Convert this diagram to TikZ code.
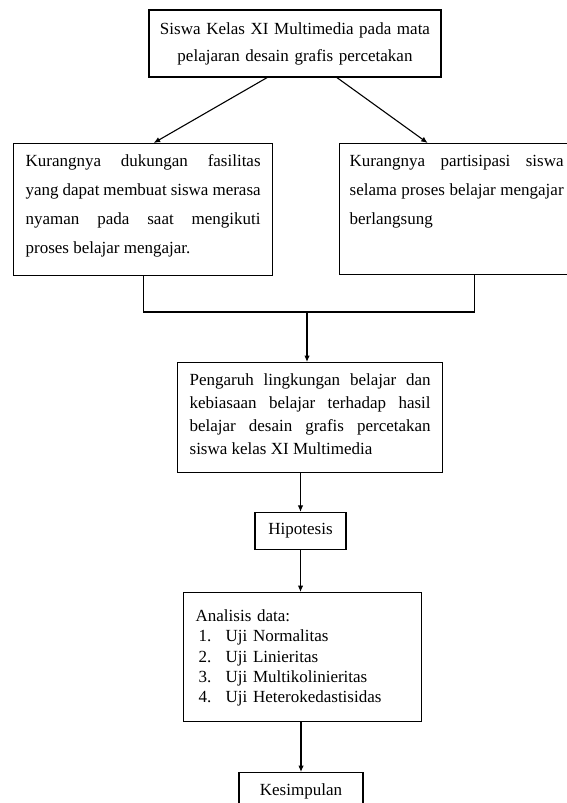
\documentclass[tikz,border=0pt]{standalone}
\usepackage{fontspec}
\setmainfont{Liberation Serif}
\usetikzlibrary{arrows.meta,positioning,calc}
\hyphenpenalty=10000
\exhyphenpenalty=10000
\tikzset{
  flowbox/.style={rectangle, draw=black, line width=1.3pt, inner xsep=12pt,
                  inner ysep=11pt, font=\fontsize{17}{29}\selectfont},
  topbox/.style={flowbox, align=justify, text height=12pt},
  flowarrow/.style={-{Latex[length=6.5pt,width=5.5pt]}, line width=1.1pt},
  flowline/.style={line width=1.1pt},
}

\begin{document}
\begin{tikzpicture}[x=1pt,y=-1pt]
  \useasboundingbox (0,0) rectangle (567,803);

  % Object of the study
  \node[flowbox, align=center, inner xsep=1pt, text width=290pt, minimum width=292pt,
        minimum height=67pt, font=\fontsize{17}{27}\selectfont] (subject) at (295,43.5)
        {Siswa Kelas XI Multimedia pada mata\\pelajaran desain grafis percetakan};

  % The two problems
  \node[topbox, anchor=north west, text width=235pt, text depth=98pt] (facility) at (13,143)
        {Kurangnya dukungan fasilitas\linebreak yang dapat membuat siswa merasa\linebreak
         nyaman pada saat mengikuti\linebreak proses belajar mengajar.};
  \node[topbox, anchor=north west, inner xsep=10pt, text width=214pt, text depth=97pt] (participation) at (339,143)
        {Kurangnya partisipasi siswa\linebreak selama proses belajar mengajar\linebreak berlangsung};

  % Research title
  \node[topbox, anchor=north west, text width=241pt, text height=11.5pt, text depth=76.5pt,
        font=\fontsize{17}{23}\selectfont] (influence) at (177,362)
        {Pengaruh lingkungan belajar dan\linebreak kebiasaan belajar terhadap hasil\linebreak
         belajar desain grafis percetakan\linebreak siswa kelas XI Multimedia};

  % Hypothesis, analysis and conclusion
  \node[flowbox, minimum width=91pt, minimum height=36pt] (hypo) at (300.5,531) {Hipotesis};
  \node[flowbox, anchor=north west, align=left, text width=214pt, inner ysep=12pt,
        text height=17pt, text depth=88pt, font=\fontsize{17}{20.3}\selectfont] (analysis) at (183,592)
        {Analisis data:\\
         \hspace*{3pt}\makebox[27pt][l]{1.}Uji Normalitas\\
         \hspace*{3pt}\makebox[27pt][l]{2.}Uji Linieritas\\
         \hspace*{3pt}\makebox[27pt][l]{3.}Uji Multikolinieritas\\
         \hspace*{3pt}\makebox[27pt][l]{4.}Uji Heterokedastisidas};
  \node[flowbox, anchor=north, minimum width=124pt, minimum height=32pt] (concl) at (301,772) {Kesimpulan};

  % Connectors
  \coordinate (join) at (307,312);
  \draw[flowarrow] ([xshift=-28pt]subject.south) -- ([xshift=10.5pt]facility.north);
  \draw[flowarrow] ([xshift=42pt]subject.south) -- ([xshift=-29pt]participation.north);
  \draw[flowline] (facility.south) |- (join) -| ([xshift=18pt]participation.south);
  \draw[flowarrow] (join) -- (join |- influence.north);
  \draw[flowarrow] (influence.south -| hypo.north) -- (hypo.north);
  \draw[flowarrow] (hypo.south) -- (hypo.south |- analysis.north);
  \draw[flowarrow] (analysis.south -| concl.north) -- (concl.north);
\end{tikzpicture}
\end{document}
